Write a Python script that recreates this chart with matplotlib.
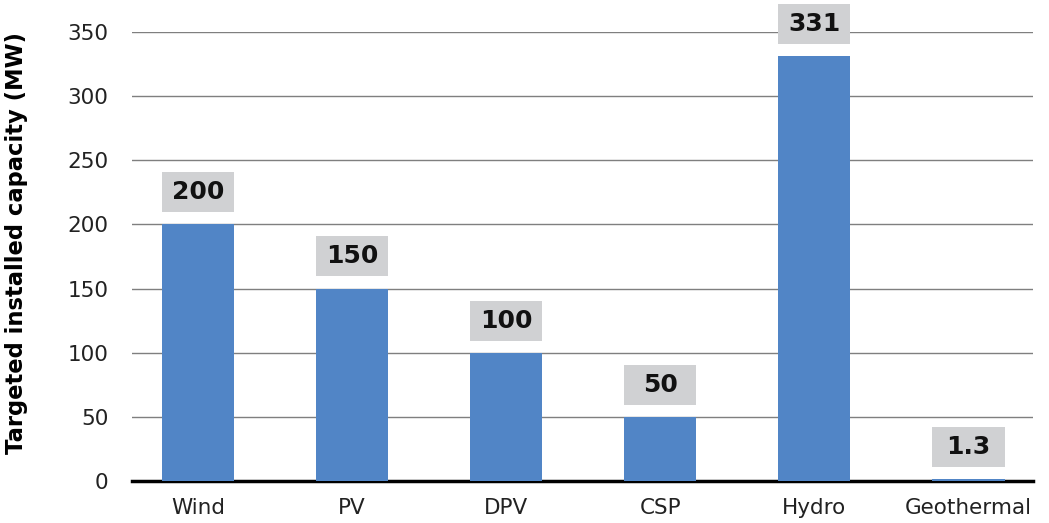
import matplotlib
matplotlib.use("Agg")
import matplotlib.pyplot as plt

categories = ["Wind", "PV", "DPV", "CSP", "Hydro", "Geothermal"]
values = [200, 150, 100, 50, 331, 1.3]
labels = ["200", "150", "100", "50", "331", "1.3"]
yticks = [0, 50, 100, 150, 200, 250, 300, 350]

plt.rcParams['font.family'] = ['DejaVu Sans']

fig = plt.figure(figsize=(10.49, 5.23), dpi=100)
ax = fig.add_axes([132/1049, 42/523, (1033-132)/1049, (481-32)/523])

x = list(range(len(categories)))
bw = 0.47
ax.bar(x, values, width=bw, color="#5185C6", zorder=3)

# label boxes
box_h = 31.2
gap = 9.5
for xi, v, lab in zip(x, values, labels):
    ax.bar(xi, box_h, width=bw, bottom=v + gap, color="#D0D1D3", zorder=3, clip_on=False)
    ax.text(xi, v + gap + box_h / 2, lab, ha="center", va="center",
            fontsize=18, fontweight="bold", color="#111111", zorder=4)

ax.set_xlim(-0.43, 5.42)
ax.set_ylim(0, 350)
ax.set_yticks(yticks)
ax.set_yticklabels([str(t) for t in yticks], fontsize=15.5, color="#222222")
ax.set_xticks(x)
ax.set_xticklabels(categories, fontsize=15.5, color="#222222")
ax.tick_params(axis="both", length=0)
ax.tick_params(axis="y", pad=17)
ax.tick_params(axis="x", pad=12)
ax.yaxis.grid(True, color="#7f7f7f", linewidth=1, zorder=0)
ax.set_axisbelow(True)
for s in ["top", "right", "left"]:
    ax.spines[s].set_visible(False)
ax.spines["bottom"].set_color("black")
ax.spines["bottom"].set_linewidth(2.5)
ax.spines["bottom"].set_zorder(2)

ax.set_ylabel("Targeted installed capacity (MW)", fontsize=16.3, fontweight="bold")
ax.yaxis.set_label_coords(-104/901, 0.529)

fig.savefig("out.png", dpi=100)
